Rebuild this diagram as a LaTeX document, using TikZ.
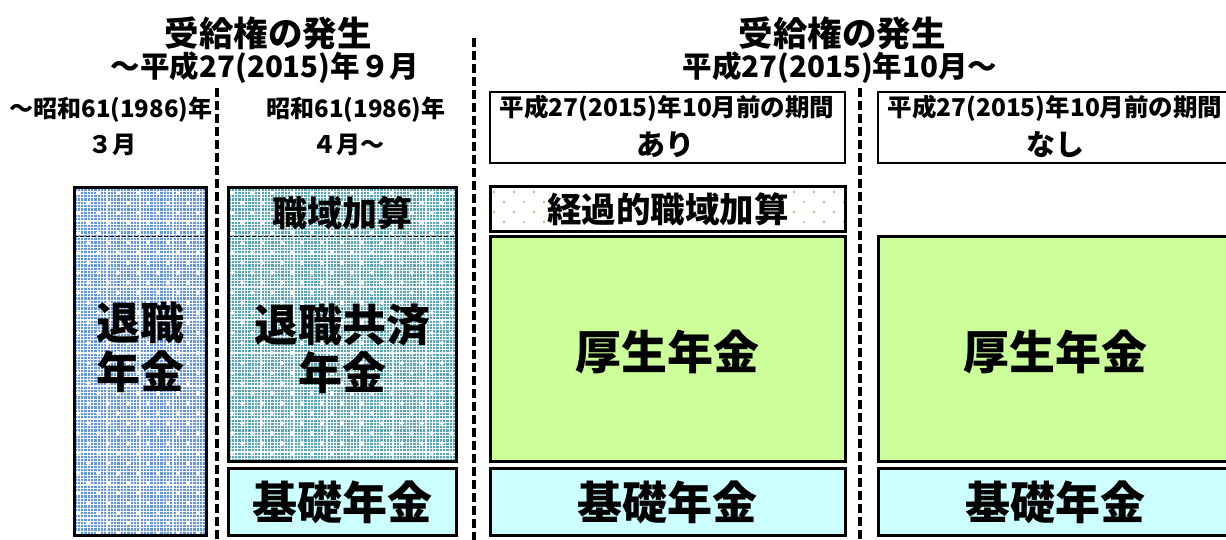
\documentclass[tikz,border=0pt]{standalone}
\usepackage{fontspec}
\setmainfont{Noto Sans CJK JP}
\definecolor{bluebg}{HTML}{6596D6}
\definecolor{tealbg}{HTML}{5BA5B3}
\definecolor{greenbg}{HTML}{CCFF99}
\definecolor{cyanbg}{HTML}{CCFFFF}
\definecolor{dotgreen}{HTML}{9BBB59}
\tikzset{
  box/.style={draw=black, line width=3pt},
  hdrbox/.style={draw=black, line width=1.5pt, fill=white},
  sep/.style={draw=black, line width=3.5pt, dash pattern=on 9pt off 4pt},
  inner/.style={draw=black, line width=1pt, dash pattern=on 4pt off 2pt},
  txt/.style={font=\bfseries, inner sep=0pt, align=center},
  gridln/.style={white, line width=1.1pt, opacity=0.9},
}
\newcommand{\dotfield}[5]{% x1 y1 x2 y2 mark
  \begin{scope}
    \clip (#1,#2) rectangle (#3,#4);
    \foreach \r in {0,...,40}{
      \pgfmathsetmacro{\yy}{#2+5+\r*10}
      \pgfmathsetmacro{\off}{mod(\r,2)*10}
      \foreach \c in {0,...,20}{
        \pgfmathsetmacro{\xx}{#1+4+\off+\c*20}
        #5
      }
    }
  \end{scope}}
\newcommand{\gridfield}[4]{% x1 y1 x2 y2
  \begin{scope}
    \clip (#1,#2) rectangle (#3,#4);
    \foreach \i in {0,...,75}{\draw[gridln] (#1+\i*3.3,#2) -- (#1+\i*3.3,#4);}
    \foreach \i in {0,...,110}{\draw[gridln] (#1,#2+\i*3.3) -- (#3,#2+\i*3.3);}
  \end{scope}}
\begin{document}
\begin{tikzpicture}[x=1pt,y=-1pt]
\useasboundingbox (0,0) rectangle (1226,540);
\fill[white] (0,0) rectangle (1226,540);

% ---- column 1 : blue pattern box
\fill[bluebg] (74,188) rectangle (206,535);
\gridfield{74}{188}{206}{535}
\dotfield{74}{188}{206}{535}{\fill[white] (\xx-2.4,\yy-0.9) rectangle (\xx+2.4,\yy+0.9); \fill[white] (\xx-0.9,\yy-2.4) rectangle (\xx+0.9,\yy+2.4);}
\draw[box] (74,188) rectangle (206,535);
\draw[inner] (74,237) -- (206,237);
\node[txt, font=\bfseries\fontsize{44}{50}\selectfont] (t1) at (140,323) {退職};
\node[txt, font=\bfseries\fontsize{44}{50}\selectfont] (t1b) at (140,372) {年金};

% ---- column 2 : teal pattern box
\fill[tealbg] (228,188) rectangle (456,461);
\gridfield{228}{188}{456}{461}
\dotfield{228}{188}{456}{461}{\fill[white] (\xx-2.4,\yy-0.9) rectangle (\xx+2.4,\yy+0.9); \fill[white] (\xx-0.9,\yy-2.4) rectangle (\xx+0.9,\yy+2.4);}
\draw[box] (228,188) rectangle (456,461);
\draw[inner] (228,237) -- (456,237);
\node[txt, font=\bfseries\fontsize{35}{40}\selectfont] (sk) at (342,213) {職域加算};
\node[txt, font=\bfseries\fontsize{44}{50}\selectfont] (t2) at (342,325) {退職共済};
\node[txt, font=\bfseries\fontsize{44}{50}\selectfont] (t2b) at (342,373) {年金};
\draw[box, fill=cyanbg] (228,468) rectangle (456,535);
\node[txt, font=\bfseries\fontsize{45}{50}\selectfont] (k2) at (342,502) {基礎年金};

% ---- column 3
\draw[hdrbox] (490,92) rectangle (845,163);
\node[txt, font=\bfseries\fontsize{24.5}{28}\selectfont] (h3) at (667,108) {平成27(2015)年10月前の期間};
\node[txt, font=\bfseries\fontsize{29}{32}\selectfont] (h3b) at (665,145) {あり};
\fill[white] (490,187) rectangle (845,232);
\dotfield{490}{187}{845}{232}{\fill[dotgreen] (\xx,\yy) circle (1.2pt);}
\draw[box] (490,187) rectangle (845,232);
\node[txt, font=\bfseries\fontsize{34.5}{38}\selectfont, fill=white, inner sep=1pt] (kk) at (668,209) {経過的職域加算};
\draw[box, fill=greenbg] (490,237) rectangle (845,461);
\node[txt, font=\bfseries\fontsize{46}{50}\selectfont] (kn3) at (667,352) {厚生年金};
\draw[box, fill=cyanbg] (490,468) rectangle (845,535);
\node[txt, font=\bfseries\fontsize{45}{50}\selectfont] (k3) at (667,502) {基礎年金};

% ---- column 4
\draw[hdrbox] (878,92) rectangle (1240,163);
\node[txt, font=\bfseries\fontsize{24.5}{28}\selectfont] (h4) at (1055,108) {平成27(2015)年10月前の期間};
\node[txt, font=\bfseries\fontsize{29}{32}\selectfont] (h4b) at (1055,145) {なし};
\draw[box, fill=greenbg] (878,237) rectangle (1240,461);
\node[txt, font=\bfseries\fontsize{46}{50}\selectfont] (kn4) at (1055,352) {厚生年金};
\draw[box, fill=cyanbg] (878,468) rectangle (1240,535);
\node[txt, font=\bfseries\fontsize{45}{50}\selectfont] (k4) at (1055,502) {基礎年金};

% ---- column labels
\node[txt, font=\bfseries\fontsize{24}{28}\selectfont] (c1) at (111,110) {～昭和61(1986)年};
\node[txt, font=\bfseries\fontsize{24}{28}\selectfont] (c1b) at (112,145) {３月};
\node[txt, font=\bfseries\fontsize{24}{28}\selectfont] (c2) at (356,110) {昭和61(1986)年};
\node[txt, font=\bfseries\fontsize{24}{28}\selectfont] (c2b) at (348,145) {４月～};

% ---- titles
\node[txt, font=\bfseries\fontsize{34.5}{38}\selectfont] (T1) at (268,33) {受給権の発生};
\node[txt, font=\bfseries\fontsize{29.5}{34}\selectfont] (S1) at (265,68) {～平成27(2015)年９月};
\node[txt, font=\bfseries\fontsize{34.5}{38}\selectfont] (T2) at (842,33) {受給権の発生};
\node[txt, font=\bfseries\fontsize{29.5}{34}\selectfont] (S2) at (840,68) {平成27(2015)年10月～};

% ---- separators
\coordinate (d1a) at (217,88); \coordinate (d1b) at (217,540);
\coordinate (d2a) at (474,38); \coordinate (d2b) at (474,540);
\coordinate (d3a) at (860,88); \coordinate (d3b) at (860,540);
\draw[sep] (d1a) -- (d1b);
\draw[sep] (d2a) -- (d2b);
\draw[sep] (d3a) -- (d3b);
\end{tikzpicture}
\end{document}
